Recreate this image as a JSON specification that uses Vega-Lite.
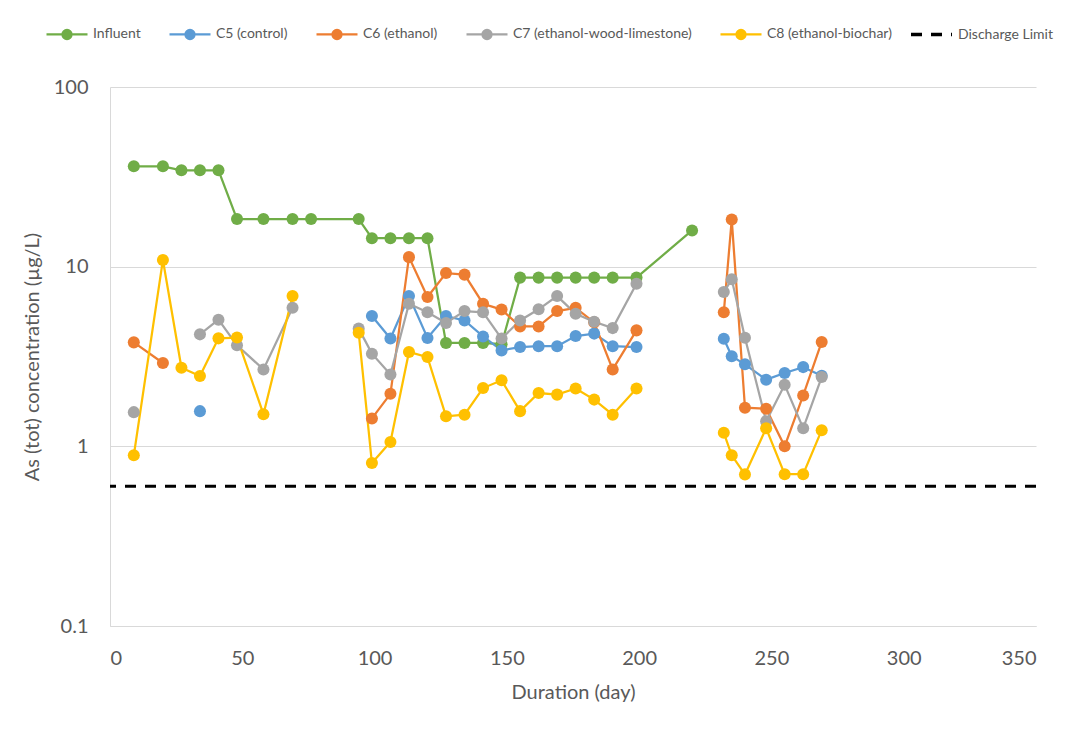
{
  "$schema": "https://vega.github.io/schema/vega-lite/v6.json",
  "width": 926,
  "height": 539,
  "autosize": {"type": "none"},
  "padding": {"left": 110, "top": 87, "right": 36, "bottom": 105},
  "background": "white",
  "config": {
    "view": {"stroke": null},
    "font": "Lato",
    "axis": {
      "labelFont": "Lato",
      "labelFontSize": 20,
      "labelColor": "#595959",
      "titleFont": "Lato",
      "titleFontSize": 20,
      "titleFontWeight": "normal",
      "titleColor": "#595959",
      "domainColor": "#d9d9d9",
      "domainWidth": 1,
      "ticks": false,
      "gridColor": "#d9d9d9",
      "gridWidth": 1
    },
    "legend": {
      "labelFont": "Lato",
      "labelFontSize": 14,
      "labelColor": "#595959",
      "labelOffset": 4,
      "labelLimit": 300,
      "symbolSize": 1681,
      "symbolOpacity": 1
    }
  },
  "datasets": {
    "conc": [
      {"day": 9, "series": "Influent", "as": 36.2},
      {"day": 20, "series": "Influent", "as": 36.2},
      {"day": 27, "series": "Influent", "as": 34.4},
      {"day": 34, "series": "Influent", "as": 34.4},
      {"day": 41, "series": "Influent", "as": 34.4},
      {"day": 48, "series": "Influent", "as": 18.4},
      {"day": 58, "series": "Influent", "as": 18.4},
      {"day": 69, "series": "Influent", "as": 18.4},
      {"day": 76, "series": "Influent", "as": 18.4},
      {"day": 94, "series": "Influent", "as": 18.4},
      {"day": 99, "series": "Influent", "as": 14.4},
      {"day": 106, "series": "Influent", "as": 14.4},
      {"day": 113, "series": "Influent", "as": 14.4},
      {"day": 120, "series": "Influent", "as": 14.4},
      {"day": 127, "series": "Influent", "as": 3.76},
      {"day": 134, "series": "Influent", "as": 3.76},
      {"day": 141, "series": "Influent", "as": 3.76},
      {"day": 148, "series": "Influent", "as": 3.7},
      {"day": 155, "series": "Influent", "as": 8.69},
      {"day": 162, "series": "Influent", "as": 8.69},
      {"day": 169, "series": "Influent", "as": 8.69},
      {"day": 176, "series": "Influent", "as": 8.69},
      {"day": 183, "series": "Influent", "as": 8.69},
      {"day": 190, "series": "Influent", "as": 8.69},
      {"day": 199, "series": "Influent", "as": 8.69},
      {"day": 220, "series": "Influent", "as": 15.9},

      {"day": 34, "series": "C5 (control)", "as": 1.57},
      {"day": 48, "series": "C5 (control)", "as": null},
      {"day": 99, "series": "C5 (control)", "as": 5.31},
      {"day": 106, "series": "C5 (control)", "as": 3.98},
      {"day": 113, "series": "C5 (control)", "as": 6.86},
      {"day": 120, "series": "C5 (control)", "as": 4.01},
      {"day": 127, "series": "C5 (control)", "as": 5.31},
      {"day": 134, "series": "C5 (control)", "as": 5.02},
      {"day": 141, "series": "C5 (control)", "as": 4.09},
      {"day": 148, "series": "C5 (control)", "as": 3.42},
      {"day": 155, "series": "C5 (control)", "as": 3.57},
      {"day": 162, "series": "C5 (control)", "as": 3.61},
      {"day": 169, "series": "C5 (control)", "as": 3.61},
      {"day": 176, "series": "C5 (control)", "as": 4.11},
      {"day": 183, "series": "C5 (control)", "as": 4.24},
      {"day": 190, "series": "C5 (control)", "as": 3.61},
      {"day": 199, "series": "C5 (control)", "as": 3.57},
      {"day": 220, "series": "C5 (control)", "as": null},
      {"day": 232, "series": "C5 (control)", "as": 3.97},
      {"day": 235, "series": "C5 (control)", "as": 3.17},
      {"day": 240, "series": "C5 (control)", "as": 2.86},
      {"day": 248, "series": "C5 (control)", "as": 2.35},
      {"day": 255, "series": "C5 (control)", "as": 2.56},
      {"day": 262, "series": "C5 (control)", "as": 2.76},
      {"day": 269, "series": "C5 (control)", "as": 2.47},

      {"day": 9, "series": "C6 (ethanol)", "as": 3.79},
      {"day": 20, "series": "C6 (ethanol)", "as": 2.91},
      {"day": 27, "series": "C6 (ethanol)", "as": null},
      {"day": 99, "series": "C6 (ethanol)", "as": 1.43},
      {"day": 106, "series": "C6 (ethanol)", "as": 1.96},
      {"day": 113, "series": "C6 (ethanol)", "as": 11.3},
      {"day": 120, "series": "C6 (ethanol)", "as": 6.78},
      {"day": 127, "series": "C6 (ethanol)", "as": 9.21},
      {"day": 134, "series": "C6 (ethanol)", "as": 9.03},
      {"day": 141, "series": "C6 (ethanol)", "as": 6.22},
      {"day": 148, "series": "C6 (ethanol)", "as": 5.77},
      {"day": 155, "series": "C6 (ethanol)", "as": 4.65},
      {"day": 162, "series": "C6 (ethanol)", "as": 4.65},
      {"day": 169, "series": "C6 (ethanol)", "as": 5.66},
      {"day": 176, "series": "C6 (ethanol)", "as": 5.9},
      {"day": 183, "series": "C6 (ethanol)", "as": 4.9},
      {"day": 190, "series": "C6 (ethanol)", "as": 2.68},
      {"day": 199, "series": "C6 (ethanol)", "as": 4.42},
      {"day": 220, "series": "C6 (ethanol)", "as": null},
      {"day": 232, "series": "C6 (ethanol)", "as": 5.57},
      {"day": 235, "series": "C6 (ethanol)", "as": 18.3},
      {"day": 240, "series": "C6 (ethanol)", "as": 1.64},
      {"day": 248, "series": "C6 (ethanol)", "as": 1.62},
      {"day": 255, "series": "C6 (ethanol)", "as": 1.0},
      {"day": 262, "series": "C6 (ethanol)", "as": 1.92},
      {"day": 269, "series": "C6 (ethanol)", "as": 3.81},

      {"day": 9, "series": "C7 (ethanol-wood-limestone)", "as": 1.55},
      {"day": 20, "series": "C7 (ethanol-wood-limestone)", "as": null},
      {"day": 34, "series": "C7 (ethanol-wood-limestone)", "as": 4.2},
      {"day": 41, "series": "C7 (ethanol-wood-limestone)", "as": 5.07},
      {"day": 48, "series": "C7 (ethanol-wood-limestone)", "as": 3.65},
      {"day": 58, "series": "C7 (ethanol-wood-limestone)", "as": 2.68},
      {"day": 69, "series": "C7 (ethanol-wood-limestone)", "as": 5.91},
      {"day": 76, "series": "C7 (ethanol-wood-limestone)", "as": null},
      {"day": 94, "series": "C7 (ethanol-wood-limestone)", "as": 4.52},
      {"day": 99, "series": "C7 (ethanol-wood-limestone)", "as": 3.28},
      {"day": 106, "series": "C7 (ethanol-wood-limestone)", "as": 2.51},
      {"day": 113, "series": "C7 (ethanol-wood-limestone)", "as": 6.22},
      {"day": 120, "series": "C7 (ethanol-wood-limestone)", "as": 5.57},
      {"day": 127, "series": "C7 (ethanol-wood-limestone)", "as": 4.86},
      {"day": 134, "series": "C7 (ethanol-wood-limestone)", "as": 5.66},
      {"day": 141, "series": "C7 (ethanol-wood-limestone)", "as": 5.57},
      {"day": 148, "series": "C7 (ethanol-wood-limestone)", "as": 3.98},
      {"day": 155, "series": "C7 (ethanol-wood-limestone)", "as": 5.02},
      {"day": 162, "series": "C7 (ethanol-wood-limestone)", "as": 5.79},
      {"day": 169, "series": "C7 (ethanol-wood-limestone)", "as": 6.86},
      {"day": 176, "series": "C7 (ethanol-wood-limestone)", "as": 5.47},
      {"day": 183, "series": "C7 (ethanol-wood-limestone)", "as": 4.94},
      {"day": 190, "series": "C7 (ethanol-wood-limestone)", "as": 4.55},
      {"day": 199, "series": "C7 (ethanol-wood-limestone)", "as": 8.04},
      {"day": 220, "series": "C7 (ethanol-wood-limestone)", "as": null},
      {"day": 232, "series": "C7 (ethanol-wood-limestone)", "as": 7.22},
      {"day": 235, "series": "C7 (ethanol-wood-limestone)", "as": 8.5},
      {"day": 240, "series": "C7 (ethanol-wood-limestone)", "as": 4.02},
      {"day": 248, "series": "C7 (ethanol-wood-limestone)", "as": 1.38},
      {"day": 255, "series": "C7 (ethanol-wood-limestone)", "as": 2.2},
      {"day": 262, "series": "C7 (ethanol-wood-limestone)", "as": 1.26},
      {"day": 269, "series": "C7 (ethanol-wood-limestone)", "as": 2.43},

      {"day": 9, "series": "C8 (ethanol-biochar)", "as": 0.891},
      {"day": 20, "series": "C8 (ethanol-biochar)", "as": 10.9},
      {"day": 27, "series": "C8 (ethanol-biochar)", "as": 2.74},
      {"day": 34, "series": "C8 (ethanol-biochar)", "as": 2.46},
      {"day": 41, "series": "C8 (ethanol-biochar)", "as": 3.99},
      {"day": 48, "series": "C8 (ethanol-biochar)", "as": 4.03},
      {"day": 58, "series": "C8 (ethanol-biochar)", "as": 1.51},
      {"day": 69, "series": "C8 (ethanol-biochar)", "as": 6.86},
      {"day": 76, "series": "C8 (ethanol-biochar)", "as": null},
      {"day": 94, "series": "C8 (ethanol-biochar)", "as": 4.29},
      {"day": 99, "series": "C8 (ethanol-biochar)", "as": 0.807},
      {"day": 106, "series": "C8 (ethanol-biochar)", "as": 1.056},
      {"day": 113, "series": "C8 (ethanol-biochar)", "as": 3.35},
      {"day": 120, "series": "C8 (ethanol-biochar)", "as": 3.14},
      {"day": 127, "series": "C8 (ethanol-biochar)", "as": 1.47},
      {"day": 134, "series": "C8 (ethanol-biochar)", "as": 1.5},
      {"day": 141, "series": "C8 (ethanol-biochar)", "as": 2.11},
      {"day": 148, "series": "C8 (ethanol-biochar)", "as": 2.33},
      {"day": 155, "series": "C8 (ethanol-biochar)", "as": 1.57},
      {"day": 162, "series": "C8 (ethanol-biochar)", "as": 1.98},
      {"day": 169, "series": "C8 (ethanol-biochar)", "as": 1.94},
      {"day": 176, "series": "C8 (ethanol-biochar)", "as": 2.1},
      {"day": 183, "series": "C8 (ethanol-biochar)", "as": 1.82},
      {"day": 190, "series": "C8 (ethanol-biochar)", "as": 1.5},
      {"day": 199, "series": "C8 (ethanol-biochar)", "as": 2.1},
      {"day": 220, "series": "C8 (ethanol-biochar)", "as": null},
      {"day": 232, "series": "C8 (ethanol-biochar)", "as": 1.19},
      {"day": 235, "series": "C8 (ethanol-biochar)", "as": 0.891},
      {"day": 240, "series": "C8 (ethanol-biochar)", "as": 0.698},
      {"day": 248, "series": "C8 (ethanol-biochar)", "as": 1.26},
      {"day": 255, "series": "C8 (ethanol-biochar)", "as": 0.7},
      {"day": 262, "series": "C8 (ethanol-biochar)", "as": 0.7},
      {"day": 269, "series": "C8 (ethanol-biochar)", "as": 1.23}
    ],
    "limit": [
      {"series": "Discharge Limit", "as": 0.6}
    ]
  },
  "layer": [
    {
      "data": {"name": "conc"},
      "mark": {"type": "line", "strokeWidth": 2.25, "invalid": "break-paths-filter-domains"},
      "encoding": {
        "x": {
          "field": "day",
          "type": "quantitative",
          "scale": {"domain": [0, 350], "nice": false},
          "axis": {
            "values": [0, 50, 100, 150, 200, 250, 300, 350],
            "title": "Duration (day)",
            "grid": false,
            "labelPadding": 22,
            "titlePadding": 14
          }
        },
        "y": {
          "field": "as",
          "type": "quantitative",
          "scale": {"type": "log", "domain": [0.1, 100], "nice": false},
          "axis": {
            "values": [0.1, 1, 10, 100],
            "format": "~g",
            "title": "As (tot) concentration (µg/L)",
            "grid": true,
            "labelPadding": 22,
            "titlePadding": 11
          }
        },
        "color": {
          "field": "series",
          "type": "nominal",
          "sort": null,
          "scale": {
            "domain": ["Influent", "C5 (control)", "C6 (ethanol)", "C7 (ethanol-wood-limestone)", "C8 (ethanol-biochar)"],
            "range": ["#70AD47", "#5B9BD5", "#ED7D31", "#A5A5A5", "#FFC000"]
          },
          "legend": {
            "title": null,
            "orient": "none",
            "direction": "horizontal",
            "columns": 5,
            "legendX": -65,
            "legendY": -75,
            "columnPadding": 24,
            "symbolStrokeWidth": 2.25,
            "symbolType": "M-1,0H1M0.22,0A0.22,0.22 0 1 1 -0.22,0A0.22,0.22 0 1 1 0.22,0Z"
          }
        }
      }
    },
    {
      "data": {"name": "conc"},
      "mark": {"type": "point", "filled": true, "size": 145, "opacity": 1, "shape": "circle"},
      "encoding": {
        "x": {"field": "day", "type": "quantitative"},
        "y": {"field": "as", "type": "quantitative"},
        "color": {"field": "series", "type": "nominal", "sort": null}
      }
    },
    {
      "data": {"name": "limit"},
      "mark": {"type": "rule", "strokeWidth": 3, "color": "#000000"},
      "encoding": {
        "y": {"field": "as", "type": "quantitative"},
        "strokeDash": {
          "field": "series",
          "type": "nominal",
          "scale": {"domain": ["Discharge Limit"], "range": [[11, 9]]},
          "legend": {
            "title": null,
            "orient": "none",
            "legendX": 799,
            "legendY": -75,
            "symbolType": "M-1,0H1",
            "symbolStrokeColor": "#000000",
            "symbolStrokeWidth": 3.5
          }
        }
      }
    }
  ]
}
